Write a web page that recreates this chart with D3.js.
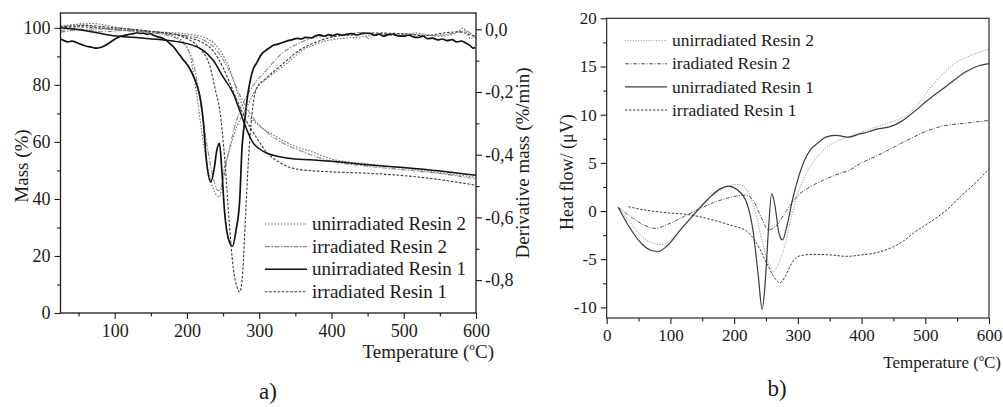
<!DOCTYPE html>
<html>
<head>
<meta charset="utf-8">
<script src="https://cdn.jsdelivr.net/npm/d3@7/dist/d3.min.js"></script>
<style>
  body { margin: 0; background: #fff; }
  svg { display: block; }
  text { font-family: "Liberation Serif", "Times New Roman", serif; fill: #1a1a1a; }
</style>
</head>
<body>
<div id="chart"></div>
<script>
// ---- legend labels ----
const legendA = ['unirradiated Resin 2', 'irradiated Resin 2', 'unirradiated Resin 1', 'irradiated Resin 1'];
const legendB = ['unirradiated Resin 2', 'iradiated Resin 2', 'unirradiated Resin 1', 'irradiated Resin 1'];

// ---- tick values ----
const ticksTempA = [100, 200, 300, 400, 500, 600];
const minorTempA = [50, 150, 250, 350, 450, 550];
const ticksMass = [0, 20, 40, 60, 80, 100];
const minorMass = [10, 30, 50, 70, 90];
const ticksDtg = [0, -0.2, -0.4, -0.6, -0.8];
const minorDtg = [-0.1, -0.3, -0.5, -0.7];
const ticksTempB = [0, 100, 200, 300, 400, 500, 600];
const minorTempB = [50, 150, 250, 350, 450, 550];
const ticksHeat = [-10, -5, 0, 5, 10, 15, 20];
const minorHeat = [-7.5, -2.5, 2.5, 7.5, 12.5, 17.5];

// ---- a) mass curves [T, %] ----
const massUnirrR2 = [[25,100.5],[45,101.2],[70,101.5],[100,100.3],[130,99.2],[160,98.6],[200,97.8],[225,96.5],[246,92],[260,85],[269,78],[280,71],[296,66.5],[324,61.8],[352,58.2],[370,56.8],[400,54],[450,52.3],[500,50.8],[550,49.2],[600,47.6]];
const massIrrR2 = [[25,98.5],[50,99.3],[80,99.6],[110,99.2],[150,98.2],[200,97.2],[225,95.5],[240,92.5],[252,88],[262,83],[275,75.5],[290,69],[310,63.5],[335,59.3],[360,56.6],[400,53.2],[450,51.5],[500,50.2],[550,48.9],[600,47]];
const massUnirrR1 = [[25,100],[60,99],[98,97.2],[130,96.6],[162,95.9],[190,95],[204,94.2],[222,92.2],[236,88.7],[250,82.8],[264,77],[273,71],[282.5,64.5],[291.7,59.6],[300,57.6],[310,56.1],[325,55],[340,54.3],[370,53.7],[400,53.2],[450,52],[500,51],[550,49.8],[600,48.3]];
const massIrrR1 = [[25,100.3],[60,100.8],[100,100],[150,98.8],[200,96.8],[220,95],[236,92],[250,86],[262,79],[272,73],[282,67.5],[295,62],[310,56.5],[330,52.5],[356,50.3],[400,49.5],[450,49],[494,48.3],[530,47.4],[560,46.4],[600,44.8]];

// ---- a) derivative curves [T, %/min] ----
const dtgUnirrR2 = [[25,0.01],[40,0.013],[55,0.016],[70,0.008],[85,0.004],[100,0.002],[120,0.0],[140,-0.005],[160,-0.01],[180,-0.02],[197,-0.045],[205,-0.09],[213,-0.2],[220,-0.32],[227,-0.42],[235,-0.5],[245,-0.535],[252,-0.44],[259,-0.385],[269,-0.31],[283,-0.247],[296,-0.19],[315,-0.15],[338,-0.109],[361,-0.065],[375,-0.05],[398,-0.034],[420,-0.028],[443,-0.024],[460,-0.018],[470,-0.012],[480,-0.02],[500,-0.02],[515,-0.012],[530,-0.016],[545,-0.022],[560,-0.02],[570,-0.014],[577,-0.004],[582,0.004],[587,-0.01],[592,-0.03],[600,-0.015]];
const dtgIrrR2 = [[25,-0.005],[45,0.002],[65,-0.004],[85,-0.008],[110,-0.004],[140,-0.008],[170,-0.018],[190,-0.035],[200,-0.06],[208,-0.1],[215,-0.18],[225,-0.33],[235,-0.46],[243,-0.515],[249,-0.49],[256,-0.41],[265,-0.32],[275,-0.25],[290,-0.185],[310,-0.13],[330,-0.08],[350,-0.05],[380,-0.025],[420,-0.017],[440,-0.01],[452,-0.03],[460,-0.02],[500,-0.016],[540,-0.02],[570,-0.012],[585,-0.005],[600,-0.03]];
const dtgUnirrR1 = [[25,-0.031],[30,-0.036],[35,-0.04],[41,-0.038],[47,-0.042],[52,-0.047],[56,-0.05],[61,-0.054],[66,-0.056],[71,-0.059],[75,-0.06],[80,-0.058],[84,-0.055],[88,-0.05],[93,-0.043],[98,-0.035],[103,-0.028],[108,-0.022],[113,-0.02],[117,-0.018],[122,-0.015],[126,-0.014],[131,-0.011],[135,-0.013],[140,-0.012],[145,-0.016],[149,-0.014],[153,-0.018],[160,-0.024],[167,-0.029],[172,-0.036],[176,-0.045],[181,-0.055],[186,-0.07],[190,-0.082],[195,-0.098],[199,-0.108],[203,-0.122],[206,-0.135],[209,-0.15],[214,-0.18],[218,-0.215],[222.5,-0.29],[227,-0.42],[233,-0.487],[238,-0.44],[241,-0.39],[245,-0.364],[248,-0.44],[252,-0.58],[257,-0.665],[263,-0.692],[268,-0.64],[273,-0.545],[276,-0.386],[280,-0.29],[284,-0.21],[287,-0.17],[292,-0.125],[296,-0.109],[303,-0.08],[310,-0.066],[315,-0.058],[320,-0.05],[325,-0.048],[329,-0.045],[335,-0.04],[340,-0.036],[346,-0.033],[352,-0.029],[358,-0.031],[364,-0.026],[372,-0.027],[378,-0.021],[384,-0.018],[390,-0.022],[396,-0.017],[402,-0.02],[408,-0.015],[414,-0.019],[420,-0.016],[428,-0.014],[436,-0.018],[444,-0.012],[453,-0.013],[460,-0.019],[466,-0.015],[472,-0.022],[478,-0.017],[485,-0.015],[492,-0.021],[500,-0.022],[507,-0.019],[513,-0.024],[520,-0.026],[527,-0.022],[533,-0.03],[540,-0.028],[547,-0.034],[553,-0.031],[560,-0.036],[567,-0.033],[573,-0.04],[580,-0.038],[587,-0.045],[592,-0.052],[596,-0.06],[599,-0.058]];
const dtgIrrR1 = [[25,0.004],[50,0.008],[80,0.003],[110,-0.003],[140,-0.006],[170,-0.012],[195,-0.025],[215,-0.055],[232,-0.12],[240,-0.2],[245.6,-0.26],[252.5,-0.42],[258,-0.6],[264,-0.76],[269,-0.82],[273,-0.838],[277,-0.78],[281,-0.6],[285,-0.42],[290,-0.27],[296,-0.19],[310,-0.155],[333,-0.11],[356,-0.066],[380,-0.04],[402,-0.024],[430,-0.018],[460,-0.012],[500,-0.014],[530,-0.02],[555,-0.012],[575,-0.008],[590,-0.016],[600,-0.024]];

// ---- b) heat flow curves [T, uV] ----
const heatUnirrR2 = [[18,0.4],[40,-1.4],[60,-2.9],[86,-3.5],[105,-2.7],[125,-1.2],[145,0.4],[170,1.8],[190,2.6],[207,2.75],[220,2.2],[232,0.2],[245,-3.4],[256,-5.8],[262,-6.3],[270,-5.4],[282,-3],[290,-0.6],[298,1.5],[308,3.1],[319,4.6],[330,5.6],[345,6.6],[360,7.2],[377,7.66],[395,8.1],[413,8.5],[440,9.1],[460,9.55],[478,10.3],[492,11.4],[513,13.2],[530,14.4],[544,15.2],[570,16.1],[600,16.8]];
const heatIrrR2 = [[18,0.4],[40,-0.7],[60,-1.5],[76,-1.8],[95,-1.4],[120,-0.6],[140,0.05],[165,0.8],[190,1.35],[217,1.65],[230,1.1],[242,-0.6],[254,-1.96],[265,-1.6],[278,-0.4],[288,0.6],[300,1.6],[319,2.5],[340,3.2],[366,3.9],[380,4.2],[397,4.9],[420,5.6],[450,6.6],[470,7.3],[492,8.0],[515,8.6],[534,8.9],[560,9.1],[600,9.4]];
const heatUnirrR1 = [[18,0.4],[35,-1.6],[55,-3.4],[70,-4.1],[81,-4.2],[95,-3.6],[115,-2.0],[141,-0.07],[160,1.3],[178,2.3],[191,2.58],[205,2.2],[220,0.8],[230,-2.2],[238,-6.8],[244,-10.2],[249,-7.2],[254,-1.8],[259,1.8],[264,0.6],[270,-2.2],[276,-3],[283,-1.5],[292,1.3],[301,3.5],[310,5.2],[319,6.3],[332,7.1],[345,7.7],[361,7.85],[370,7.75],[379,7.66],[397,8.0],[410,8.2],[424,8.5],[445,8.76],[460,9.2],[471,9.7],[488,10.6],[502,11.4],[534,13],[565,14.5],[585,15.1],[600,15.3]];
const heatIrrR1 = [[34,0.45],[60,0.1],[90,-0.15],[131,-0.4],[165,-0.9],[193,-1.44],[220,-2.1],[235,-3.3],[251,-5.4],[262,-6.8],[272,-7.45],[280,-6.8],[288,-5.7],[296,-4.9],[303,-4.65],[324,-4.5],[350,-4.55],[377,-4.7],[400,-4.55],[418,-4.4],[435,-4.1],[450,-3.7],[466,-3.1],[481,-2.3],[497,-1.6],[513,-0.9],[535,0.2],[555,1.5],[580,3.0],[600,4.4]];

const W = 1003, H = 407;
const svg = d3.select('#chart').append('svg').attr('width', W).attr('height', H);

const fmtComma = d => d3.format('.1f')(d).replace('.', ',').replace('\u2212', '-');

// line styles, order follows the legends
const stylesA = [
  {stroke: '#707070', width: 1.1, dash: '1.6,1.6'},
  {stroke: '#8a8a8a', width: 1.1, dash: '5,1.5,1.5,1.5'},
  {stroke: '#111111', width: 1.5, dash: null},
  {stroke: '#3a3a3a', width: 1.1, dash: '2.6,1.6'}
];
const stylesB = [
  {stroke: '#9a9a9a', width: 1.0, dash: '1.2,1.4'},
  {stroke: '#555555', width: 1.0, dash: '4,1.5,1,1.5'},
  {stroke: '#3c3c3c', width: 1.2, dash: null},
  {stroke: '#3a3a3a', width: 1.0, dash: '2.4,1.6'}
];

function drawLine(g, data, x, y, st) {
  g.append('path')
    .datum(data)
    .attr('fill', 'none')
    .attr('stroke', st.stroke)
    .attr('stroke-width', st.width)
    .attr('stroke-dasharray', st.dash)
    .attr('stroke-linejoin', 'round')
    .attr('d', d3.line()
      .x(d => x(d[0]))
      .y(d => y(d[1]))
      .curve(d3.curveMonotoneX));
}

function styleAxis(g, fontSize) {
  g.select('.domain').remove();
  g.selectAll('.tick line').attr('stroke', '#1a1a1a').attr('stroke-width', 1.1);
  g.selectAll('.tick text')
    .attr('font-family', '"Liberation Serif", serif')
    .attr('font-size', fontSize)
    .attr('fill', '#1a1a1a');
}

function addAxis(axis, transform, fontSize) {
  const g = svg.append('g').attr('transform', transform).call(axis);
  styleAxis(g, fontSize);
  return g;
}

function tempLabel(x, y, size) {
  const t = svg.append('text')
    .attr('x', x).attr('y', y)
    .attr('text-anchor', 'end')
    .attr('font-size', size);
  t.append('tspan').text('Temperature (');
  t.append('tspan').attr('font-size', size * 0.6).attr('dy', -size * 0.4).text('o');
  t.append('tspan').attr('dy', size * 0.4).text('C)');
}

function drawLegend(x0, y0, gap, labels, styles, size) {
  labels.forEach((lab, i) => {
    const y = y0 + i * gap;
    svg.append('line')
      .attr('x1', x0).attr('x2', x0 + 42)
      .attr('y1', y).attr('y2', y)
      .attr('stroke', styles[i].stroke)
      .attr('stroke-width', styles[i].width)
      .attr('stroke-dasharray', styles[i].dash);
    svg.append('text')
      .attr('x', x0 + 47).attr('y', y)
      .attr('dy', '0.32em')
      .attr('font-size', size)
      .text(lab);
  });
}

// ================= panel a) =================
const a = {left: 60.5, right: 476, top: 13, bottom: 313};
const xA = d3.scaleLinear().domain([25, 600]).range([a.left, a.right]);
const yMass = d3.scaleLinear().domain([0, 105.2]).range([a.bottom, a.top]);
const yDtg = d3.scaleLinear().domain([-0.905, 0.052]).range([a.bottom, a.top]);

const gA = svg.append('g');
[dtgUnirrR2, dtgIrrR2, dtgUnirrR1, dtgIrrR1].forEach((d, i) => drawLine(gA, d, xA, yDtg, i === 2 ? {stroke: '#111', width: 1.7, dash: null} : stylesA[i]));
[massUnirrR2, massIrrR2, massUnirrR1, massIrrR1].forEach((d, i) => drawLine(gA, d, xA, yMass, stylesA[i]));

addAxis(d3.axisBottom(xA).tickValues(ticksTempA).tickSize(6).tickPadding(5), `translate(0,${a.bottom})`, 18);
addAxis(d3.axisBottom(xA).tickValues(minorTempA).tickSize(3.5).tickFormat(''), `translate(0,${a.bottom})`, 18);
addAxis(d3.axisLeft(yMass).tickValues(ticksMass).tickSize(6).tickPadding(4), `translate(${a.left},0)`, 18);
addAxis(d3.axisLeft(yMass).tickValues(minorMass).tickSize(3.5).tickFormat(''), `translate(${a.left},0)`, 18);
addAxis(d3.axisRight(yDtg).tickValues(ticksDtg).tickSize(6).tickPadding(3).tickFormat(fmtComma), `translate(${a.right},0)`, 18);
addAxis(d3.axisRight(yDtg).tickValues(minorDtg).tickSize(3.5).tickFormat(''), `translate(${a.right},0)`, 18);

svg.append('rect')
  .attr('x', a.left).attr('y', a.top)
  .attr('width', a.right - a.left).attr('height', a.bottom - a.top)
  .attr('fill', 'none').attr('stroke', '#1a1a1a').attr('stroke-width', 1.3);

svg.append('text')
  .attr('transform', `translate(22,${(a.top + a.bottom) / 2 + 3}) rotate(-90)`)
  .attr('text-anchor', 'middle').attr('dy', '0.32em')
  .attr('font-size', 19)
  .text('Mass (%)');
svg.append('text')
  .attr('transform', `translate(523,${(a.top + a.bottom) / 2}) rotate(-90)`)
  .attr('text-anchor', 'middle').attr('dy', '0.32em')
  .attr('font-size', 19)
  .text('Derivative mass (%/min)');
tempLabel(494, 358, 19);
drawLegend(265, 224, 22.6, legendA, stylesA, 19);
svg.append('text').attr('x', 268).attr('y', 399).attr('text-anchor', 'middle').attr('font-size', 23).text('a)');

// ================= panel b) =================
const b = {left: 606.7, right: 989, top: 18.3, bottom: 318};
const xB = d3.scaleLinear().domain([0, 600]).range([b.left, b.right]);
const yB = d3.scaleLinear().domain([-11.1, 20]).range([b.bottom, b.top]);

const gB = svg.append('g');
[heatUnirrR2, heatIrrR2, heatUnirrR1, heatIrrR1].forEach((d, i) => drawLine(gB, d, xB, yB, stylesB[i]));

addAxis(d3.axisBottom(xB).tickValues(ticksTempB).tickSize(6).tickPadding(5), `translate(0,${b.bottom})`, 17);
addAxis(d3.axisBottom(xB).tickValues(minorTempB).tickSize(3.5).tickFormat(''), `translate(0,${b.bottom})`, 17);
addAxis(d3.axisLeft(yB).tickValues(ticksHeat).tickSize(6).tickPadding(4).tickFormat(d => String(d).replace('\u2212', '-')), `translate(${b.left},0)`, 17);
addAxis(d3.axisLeft(yB).tickValues(minorHeat).tickSize(3.5).tickFormat(''), `translate(${b.left},0)`, 17);

svg.append('rect')
  .attr('x', b.left).attr('y', b.top)
  .attr('width', b.right - b.left).attr('height', b.bottom - b.top)
  .attr('fill', 'none').attr('stroke', '#2a2a2a').attr('stroke-width', 1.2);

svg.append('text')
  .attr('transform', `translate(567,${(b.top + b.bottom) / 2 + 4}) rotate(-90)`)
  .attr('text-anchor', 'middle').attr('dy', '0.32em')
  .attr('font-size', 18)
  .text('Heat flow/ (\u03bcV)');
tempLabel(1001, 368, 17);
drawLegend(625, 40.7, 23.1, legendB, stylesB, 17.5);
svg.append('text').attr('x', 777).attr('y', 396).attr('text-anchor', 'middle').attr('font-size', 23).text('b)');
</script>
</body>
</html>
